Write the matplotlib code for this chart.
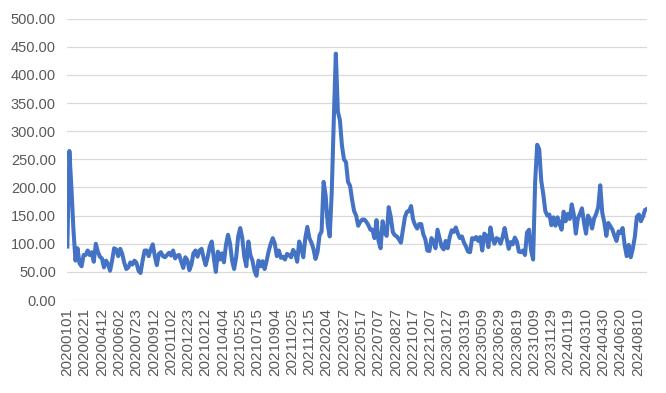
import numpy as np
import pandas as pd
import matplotlib
matplotlib.use("Agg")
import matplotlib.pyplot as plt

# values, one every 6 days starting 2020-01-01
start = "2020-01-01"
values = [
    95, 265, 200, 125, 70, 92, 65, 60, 80, 80,
    88, 80, 85, 68, 100, 86, 77, 74, 58, 70,
    64, 52, 70, 92, 90, 78, 91, 82, 66, 55,
    58, 67, 63, 70, 66, 52, 48, 70, 88, 88,
    78, 90, 99, 78, 62, 82, 85, 78, 76, 80,
    84, 79, 88, 74, 79, 80, 68, 57, 76, 71,
    53, 63, 83, 88, 77, 88, 91, 75, 62, 76,
    95, 104, 75, 50, 86, 72, 83, 67, 98, 116,
    100, 70, 55, 76, 113, 128, 110, 77, 60, 104,
    80, 70, 52, 43, 70, 60, 69, 55, 70, 87,
    100, 110, 100, 78, 88, 75, 77, 72, 82, 80,
    76, 89, 83, 68, 104, 93, 76, 110, 130, 110,
    102, 91, 73, 85, 115, 122, 210, 186, 135, 113,
    192, 320, 438, 335, 320, 275, 250, 245, 210, 203,
    178, 158, 150, 132, 139, 143, 143, 139, 133, 125,
    125, 110, 142, 105, 92, 140, 119, 114, 165, 148,
    121, 115, 113, 108, 102, 125, 148, 157, 158, 167,
    143, 133, 127, 135, 135, 117, 108, 88, 87, 110,
    104, 92, 125, 110, 95, 90, 105, 92, 112, 124,
    121, 129, 118, 110, 113, 102, 95, 86, 85, 110,
    108, 112, 105, 112, 88, 118, 114, 94, 129, 110,
    100, 110, 108, 100, 112, 128, 110, 91, 103, 99,
    111, 104, 86, 85, 88, 80, 120, 125, 88, 72,
    210, 276, 268, 212, 188, 158, 150, 152, 133, 147,
    132, 147, 135, 125, 157, 140, 153, 144, 170, 152,
    118, 145, 153, 163, 138, 118, 150, 143, 127, 145,
    153, 165, 204, 155, 138, 114, 137, 131, 125, 114,
    105, 122, 119, 128, 98, 78, 98, 76, 91, 112,
    148, 152, 140, 148, 160, 162,
]
dates = pd.date_range(start, periods=len(values), freq="6D")

tick_dates = pd.date_range(start, "2024-08-10", freq="51D")
tick_labels = [d.strftime("%Y%m%d") for d in tick_dates]
y_ticks = np.arange(0, 501, 50)

plt.rcParams["font.family"] = ["Liberation Sans", "DejaVu Sans"]

fig = plt.figure(figsize=(6.66, 3.93), dpi=100)
ax = fig.add_axes([0.1006, 0.2366, 0.8709, 0.7158])

ax.plot(dates, values, color="#4472C4", lw=2.9, solid_joinstyle="round")

ax.set_ylim(0, 500)
ax.set_xlim(pd.Timestamp(start) - pd.Timedelta(days=1),
            pd.Timestamp(start) + pd.Timedelta(days=1710))
ax.set_yticks(y_ticks)
ax.set_yticklabels(["%.2f" % v for v in y_ticks])
ax.set_xticks(tick_dates)
ax.set_xticklabels(tick_labels, rotation=90)

ax.grid(axis="y", color="#D9D9D9", lw=0.9)
ax.set_axisbelow(True)
for s in ax.spines.values():
    s.set_visible(False)
ax.tick_params(axis="y", length=0, pad=8, labelsize=10.5, labelcolor="#595959")
ax.tick_params(axis="x", length=0, pad=6, labelsize=11, labelcolor="#595959")

fig.savefig("out.png", dpi=100)
